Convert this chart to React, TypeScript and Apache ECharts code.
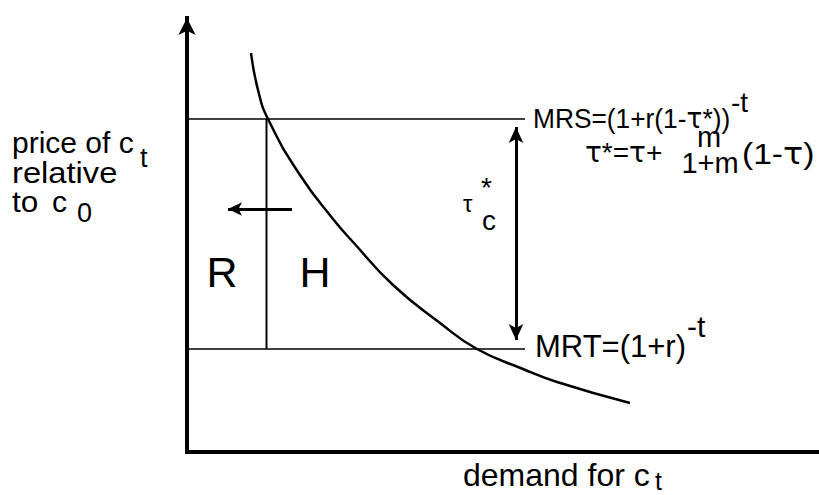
import React, { useEffect, useRef } from "react";
import * as echarts from "echarts";

// demand (x) vs price (y); units: x = px offset from y-axis, y = px above x-axis
const curveX = [64, 71, 81, 113, 146, 166, 206, 253, 290, 336, 370, 443];
const curveY = [399, 362, 333, 277, 233, 210, 167, 129, 103, 83, 70, 49];
const mrsLevel = 333;
const mrtLevel = 103;
const lineEndX = 338;
const splitX = 79.5;
const wedgeArrowX = 329;
const wedgeArrowY = [325, 112];
const shiftArrowY = 243;
const shiftArrowX = [105, 41];

const FONT = "'Liberation Sans', Arial, sans-serif";

type T = { t: string; x: number; b: number; s: number; a?: string; sx?: number };
const texts: T[] = [
  { t: "price of c", x: 12, b: 153, s: 30 },
  { t: "t", x: 140, b: 167, s: 27 },
  { t: "relative", x: 12, b: 183, s: 30, sx: 1.09 },
  { t: "to", x: 12, b: 212, s: 30, sx: 1.05 },
  { t: "c", x: 52, b: 212, s: 30 },
  { t: "0", x: 77, b: 222, s: 27 },
  { t: "R", x: 222, b: 287, s: 43, a: "center" },
  { t: "H", x: 315, b: 287, s: 43, a: "center" },
  { t: "τ", x: 463, b: 212, s: 24 },
  { t: "*", x: 481, b: 197, s: 28 },
  { t: "c", x: 482, b: 230, s: 28 },
  { t: "MRS=(1+r(1-τ*))", x: 533, b: 128, s: 28, sx: 0.94 },
  { t: "-t", x: 731, b: 112, s: 28 },
  { t: "τ*=τ+", x: 585, b: 162, s: 28 },
  { t: "m", x: 709, b: 147, s: 29, a: "center" },
  { t: "1+m", x: 710, b: 173, s: 29, a: "center" },
  { t: "(1-τ)", x: 742, b: 164, s: 30, sx: 1.12 },
  { t: "MRT=(1+r)", x: 535, b: 357, s: 31 },
  { t: "-t", x: 687, b: 337, s: 30 },
  { t: "demand for c", x: 463, b: 486, s: 32 },
  { t: "t", x: 655, b: 490, s: 25 },
];

export default function App() {
  const ref = useRef<HTMLDivElement>(null);
  useEffect(() => {
    const chart = echarts.init(ref.current!, null, { renderer: "svg" });
    const thin = { color: "#000", width: 1.5 };
    chart.setOption({
      animation: false,
      grid: { left: 187, right: 0, top: 18, bottom: 43 },
      xAxis: {
        type: "value", min: 0, max: 632,
        axisLine: { show: true, lineStyle: { color: "#000", width: 4, cap: "square" } },
        axisTick: { show: false }, axisLabel: { show: false }, splitLine: { show: false },
      },
      yAxis: {
        type: "value", min: 0, max: 434,
        axisLine: {
          show: true, symbol: ["none", "arrow"], symbolSize: [13, 17],
          lineStyle: { color: "#000", width: 4, cap: "square" },
        },
        axisTick: { show: false }, axisLabel: { show: false }, splitLine: { show: false },
      },
      series: [
        {
          type: "line", smooth: 0.5, showSymbol: false,
          data: curveX.map((x, i) => [x, curveY[i]]),
          lineStyle: { color: "#000", width: 2.5 },
        },
        { type: "line", showSymbol: false, data: [[0, mrsLevel], [lineEndX, mrsLevel]], lineStyle: thin },
        { type: "line", showSymbol: false, data: [[0, mrtLevel], [lineEndX, mrtLevel]], lineStyle: thin },
        { type: "line", showSymbol: false, data: [[splitX, mrtLevel], [splitX, mrsLevel]], lineStyle: { color: "#000", width: 2 } },
        {
          type: "line", data: [],
          markLine: {
            silent: true, symbol: ["arrow", "arrow"], symbolSize: [11, 16], label: { show: false },
            lineStyle: { color: "#000", width: 3, type: "solid" },
            data: [[{ coord: [wedgeArrowX, wedgeArrowY[0]] }, { coord: [wedgeArrowX, wedgeArrowY[1]] }]],
          },
        },
        {
          type: "line", data: [],
          markLine: {
            silent: true, symbol: ["none", "arrow"], symbolSize: [10, 14], label: { show: false },
            lineStyle: { color: "#000", width: 3, type: "solid" },
            data: [[{ coord: [shiftArrowX[0], shiftArrowY] }, { coord: [shiftArrowX[1], shiftArrowY] }]],
          },
        },
      ],
      graphic: texts.map((o) => {
        const useRich = o.t.length > 1 && o.t.includes("τ");
        return {
          type: "text",
          x: o.x,
          y: o.b - 0.35 * o.s,
          scaleX: o.sx ?? 1,
          style: {
            text: useRich ? o.t.replace(/τ/g, "{g|τ}") : o.t,
            fontSize: o.s, fontFamily: FONT, fill: "#000",
            textAlign: o.a ?? "left", textVerticalAlign: "middle",
            rich: useRich ? { g: { fontFamily: "'DejaVu Sans'", fontSize: o.s, fill: "#000" } } : undefined,
          },
        };
      }),
    });
    return () => chart.dispose();
  }, []);
  return <div ref={ref} style={{ width: 819, height: 495, position: "absolute", left: 0, top: 0 }} />;
}
